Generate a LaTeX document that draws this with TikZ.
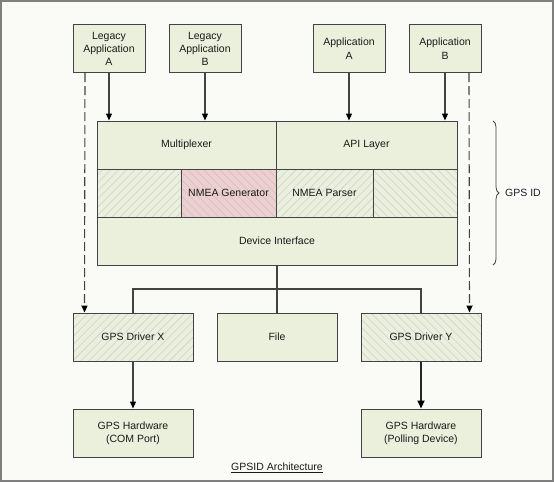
\documentclass[tikz,border=0pt]{standalone}
\usepackage{fontspec}
\setmainfont{Liberation Sans}
\usetikzlibrary{arrows.meta,patterns.meta,decorations.pathreplacing}
\definecolor{bg}{HTML}{FAFBF7}
\definecolor{frame}{HTML}{7F7F7F}
\definecolor{boxg}{HTML}{EAF0DC}
\definecolor{boxr}{HTML}{ECD0D0}
\definecolor{edge}{HTML}{434343}
\definecolor{hatchg}{HTML}{CDD0D2}
\definecolor{hatchr}{HTML}{D4BCC0}
\definecolor{txt}{HTML}{1A1A1A}
\begin{document}
\begin{tikzpicture}[x=1pt,y=1pt,
  every node/.style={font=\fontsize{10.5}{13.3}\selectfont, text=txt, align=center, inner sep=0pt},
  box/.style={draw=edge, line width=1pt, fill=boxg},
  hatchne/.style={draw=edge, line width=1pt, preaction={fill=boxg}, pattern={Lines[angle=45,distance=5.7pt,line width=0.55pt]}, pattern color=hatchg},
  hatchnw/.style={draw=edge, line width=1pt, preaction={fill=boxg}, pattern={Lines[angle=-45,distance=5.7pt,line width=0.55pt]}, pattern color=hatchg},
  hatchred/.style={draw=edge, line width=1pt, preaction={fill=boxr}, pattern={Lines[angle=-45,distance=5.7pt,line width=0.55pt]}, pattern color=hatchr},
  conn/.style={draw=edge, line width=1.1pt},
  arr/.style={conn, -{Triangle[length=7pt,width=6pt,color=black]}},
  darr/.style={arr, dash pattern=on 9pt off 4pt},
  bigarr/.style={draw=black!85, line width=1.8pt, -{Triangle[length=8pt,width=7pt,color=black]}}
]
\useasboundingbox (0,0) rectangle (554,-482);
\fill[bg] (0,0) rectangle (554,-482);
\draw[frame, line width=2pt] (1,-1) rectangle (553,-481);

% top applications
\node[box, minimum width=72pt, minimum height=48pt] (la) at (109,-48.7) {Legacy\\Application\\A};
\node[box, minimum width=72pt, minimum height=48pt] (lb) at (205,-48.7) {Legacy\\Application\\B};
\node[box, minimum width=72pt, minimum height=48pt] (aa) at (349,-48.7) {Application\\A};
\node[box, minimum width=72pt, minimum height=48pt] (ab) at (445,-48.7) {Application\\B};

% GPS ID block
\node[box, minimum width=179pt, minimum height=48pt] (mux) at (186.5,-145) {Multiplexer};
\node[box, minimum width=181pt, minimum height=48pt] (api) at (366.5,-145) {API Layer};
\node[hatchne, minimum width=84pt, minimum height=48pt] (e1) at (139,-193) {};
\node[hatchred, minimum width=95pt, minimum height=48pt] (gen) at (228.5,-193) {NMEA Generator};
\node[hatchne, minimum width=97pt, minimum height=48pt] (par) at (324.5,-193) {NMEA Parser};
\node[hatchnw, minimum width=84pt, minimum height=48pt] (e2) at (415,-193) {};
\node[box, minimum width=360pt, minimum height=48pt] (dev) at (277,-241) {Device Interface};

% brace
\coordinate (bt) at (493,-121);
\coordinate (bb) at (493,-265);
\draw[edge, line width=0.8pt, decorate, decoration={brace, amplitude=6pt}] (bt) -- (bb);
\node[fill=white, inner sep=1pt, anchor=west] (gpsid) at (504,-193) {GPS ID};

% drivers
\node[hatchne, minimum width=120pt, minimum height=48pt] (dx) at (133,-337) {GPS Driver X};
\node[box, minimum width=120pt, minimum height=48pt] (file) at (277,-337) {File};
\node[hatchnw, minimum width=120pt, minimum height=48pt] (dy) at (421,-337) {GPS Driver Y};

% hardware
\node[box, minimum width=120pt, minimum height=48pt] (com) at (133,-433) {GPS Hardware\\(COM Port)};
\node[box, minimum width=120pt, minimum height=48pt] (poll) at (421,-433) {GPS Hardware\\(Polling Device)};

% caption
\node (cap) at (277,-468) {\underline{GPSID Architecture}};

% arrows top
\draw[arr] (la.south) -- (la.south |- mux.north);
\draw[arr] (lb.south) -- (lb.south |- mux.north);
\draw[arr] (aa.south) -- (aa.south |- api.north);
\draw[arr] (ab.south) -- (ab.south |- api.north);

% dashed bypass
\draw[darr] ([xshift=-24pt]la.south) -- ([xshift=12pt]dx.north west);
\draw[darr] ([xshift=24pt]ab.south) -- ([xshift=-12pt]dy.north east);

% bus
\coordinate (bus) at (277,-289);
\draw[conn] (dev.south) -- (file.north);
\draw[conn] (dx.north) |- (bus) -| (dy.north);

% driver to hardware
\draw[arr] (dx.south) -- (com.north);
\draw[bigarr] (dy.south) -- (poll.north);
\end{tikzpicture}
\end{document}
